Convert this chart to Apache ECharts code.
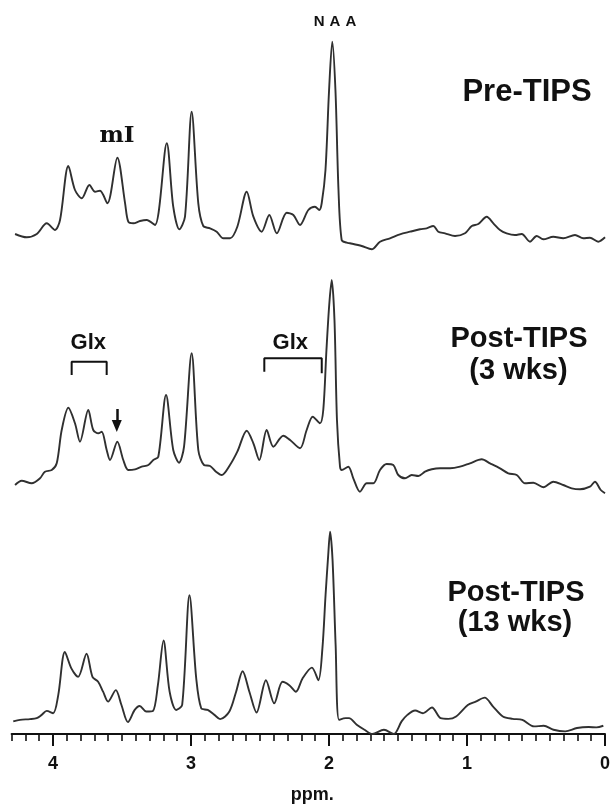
<!DOCTYPE html>
<html>
<head>
<meta charset="utf-8">
<script src="https://cdn.jsdelivr.net/npm/echarts@6/dist/echarts.min.js"></script>
<style>
html,body{margin:0;padding:0;background:#fff;}
#chart{width:613px;height:805px;}
</style>
</head>
<body>
<div id="chart"></div>
<script>
// ---- Data (ppm positions and intensities, arbitrary units) ----
const preTipsPpm = [4.275,4.191,4.118,4.046,3.986,3.950,3.890,3.842,3.793,3.738,3.697,3.661,3.608,3.536,3.480,3.457,3.420,3.372,3.324,3.264,3.179,3.132,3.088,3.047,2.999,2.951,2.915,2.866,2.818,2.770,2.722,2.669,2.601,2.553,2.493,2.438,2.384,2.312,2.264,2.216,2.156,2.108,2.077,2.059,2.032,2.006,1.983,1.960,1.938,1.915,1.879,1.855,1.770,1.698,1.638,1.566,1.494,1.421,1.349,1.301,1.253,1.217,1.168,1.096,1.024,0.975,0.928,0.867,0.819,0.771,0.723,0.663,0.614,0.554,0.506,0.458,0.386,0.314,0.229,0.169,0.121,0.061,0.012];
const preTipsIntensity = [16,12.7,16,26.7,20,30,84,60,51.7,65,58.3,59.3,46.7,92.3,46.7,28.3,26.7,29,30,25,106.7,43.3,20.7,33.3,138.3,46.7,24,21.7,18.3,11.7,11.7,23.3,58.3,33.3,18.3,35,16.7,37.3,35,25,40,43.3,40,47,80,160,208.3,160,60,10,7.3,6.7,4,0.7,8.3,11.7,15.7,18.3,20.7,21.7,24,18.3,16.7,14,16.7,24,26,33.3,26.7,20,16.7,15,16,8.3,14,10.7,13.3,11.7,15,11.7,12.3,8.3,12.7];

const post3Ppm = [4.275,4.227,4.155,4.095,4.059,4.010,3.974,3.938,3.890,3.842,3.806,3.746,3.710,3.673,3.649,3.613,3.589,3.536,3.493,3.457,3.408,3.360,3.312,3.276,3.240,3.184,3.132,3.090,3.054,2.999,2.951,2.910,2.866,2.823,2.782,2.722,2.669,2.601,2.553,2.510,2.457,2.409,2.337,2.288,2.216,2.168,2.124,2.072,2.048,2.025,2.005,1.987,1.967,1.949,1.927,1.915,1.867,1.831,1.783,1.734,1.686,1.638,1.590,1.542,1.506,1.457,1.409,1.361,1.313,1.264,1.204,1.132,1.060,0.988,0.903,0.843,0.771,0.711,0.650,0.590,0.530,0.458,0.386,0.314,0.253,0.193,0.121,0.085,0.043,0.012];
const post3Intensity = [15,19.3,16.7,21.7,28.3,30,36.7,70,92.3,76.7,58.3,90,70,66.7,68.3,50,40,58.3,40,30,30.7,33.3,35,40,43.3,105,50,37.3,53.3,146.7,50,35,34,28.3,25,35,48.3,69.3,56.7,40,70,53.3,64.3,60,51.7,70,83.3,76.7,90,150,195,220,180,80,33.3,30,33.3,21.7,8.3,16.7,16.7,30,36,35,25,21.7,25,24,28.3,30.7,31.7,31.7,33.3,36.7,40.7,36.7,31.7,26.7,25,16.7,17.3,12.7,18.3,15,11.7,10.7,13.3,18.3,10,6.7];

const post13Ppm = [4.288,4.239,4.167,4.118,4.082,4.046,3.999,3.962,3.914,3.866,3.818,3.757,3.714,3.673,3.637,3.601,3.545,3.504,3.457,3.408,3.372,3.324,3.276,3.240,3.199,3.155,3.107,3.064,3.011,2.962,2.926,2.879,2.830,2.789,2.722,2.673,2.626,2.577,2.525,2.457,2.397,2.337,2.288,2.240,2.192,2.124,2.077,2.048,2.025,2.006,1.992,1.974,1.952,1.927,1.879,1.855,1.799,1.743,1.686,1.602,1.531,1.474,1.432,1.376,1.319,1.254,1.191,1.135,1.079,0.994,0.937,0.872,0.811,0.740,0.670,0.599,0.514,0.444,0.373,0.288,0.203,0.118,0.062,0.012];
const post13Intensity = [12.7,14.3,15,16,19.3,23.3,21,39.3,82.7,66,57.7,81,57.7,52.7,42.7,32.7,44.3,29.3,12,24.3,28.3,22.7,23.3,49.3,94.3,42.7,24.3,29.3,140,56,26,24.3,19.3,15,22.7,42.7,63.3,42.7,21.7,54.3,31,52.7,49.3,42.7,56,67,54.3,86,140,180,204.3,175,90,14.3,16,16,9.3,4.3,0,4.3,0,12.7,19.3,23.7,21,26.7,16,15.3,17.7,29.3,32.7,36.7,27.7,17.7,15.3,14.3,7.7,8.3,4.3,2.7,6,7,6.7,8.3];

// Glx brackets (ppm, intensity in the Post-TIPS 3 wks panel)
const glxLeftPpm = [3.866, 3.866, 3.613, 3.613];
const glxLeftIntensity = [125, 138.3, 138.3, 125];
const glxRightPpm = [2.474, 2.474, 2.059, 2.059];
const glxRightIntensity = [128.3, 141.7, 141.7, 126.7];
// arrow (ppm, start intensity, end intensity)
const arrowPpm = 3.540;
const arrowFrom = 91;
const arrowTo = 74;

const majorTicks = [0, 1, 2, 3, 4];

function zip(a, b) {
  if (a.length !== b.length) throw new Error('length mismatch ' + a.length + ' vs ' + b.length);
  return a.map((v, i) => [v, b[i]]);
}

const chart = echarts.init(document.getElementById('chart'), null, {renderer: 'canvas'});
const LEFT = 11.6, RIGHT = 6.3;
const lineColor = '#303030';
const sansBold = '"Liberation Sans", Arial, sans-serif';

function hiddenX(gi) {
  return {gridIndex: gi, type: 'value', min: 0, max: 4.3, inverse: true, show: false};
}
function hiddenY(gi, max) {
  return {gridIndex: gi, type: 'value', min: 0, max: max, show: false};
}
function spectrum(name, data, idx) {
  return {
    name: name, type: 'line', xAxisIndex: idx, yAxisIndex: idx,
    data: data, showSymbol: false, smooth: 0.3, silent: true,
    lineStyle: {color: lineColor, width: 1.9}
  };
}

const option = {
  animation: false,
  backgroundColor: '#fff',
  grid: [
    {left: LEFT, right: RIGHT, top: 30, height: 220},
    {left: LEFT, right: RIGHT, top: 270, height: 230},
    {left: LEFT, right: RIGHT, top: 520, height: 216}
  ],
  xAxis: [
    hiddenX(0),
    hiddenX(1),
    {
      gridIndex: 2, type: 'value', min: 0, max: 4.3, interval: 0.1, inverse: true,
      position: 'bottom',
      axisLine: {show: true, onZero: false, lineStyle: {color: '#111', width: 2}},
      axisTick: {show: true, length: 7, lineStyle: {color: '#111', width: 1.6}},
      axisLabel: {show: false},
      splitLine: {show: false}
    },
    {
      gridIndex: 2, type: 'value', min: 0, max: 4.3, inverse: true,
      position: 'bottom',
      axisLine: {show: false, onZero: false},
      axisTick: {show: true, length: 12, customValues: majorTicks, lineStyle: {color: '#111', width: 2}},
      axisLabel: {show: true, customValues: majorTicks, margin: 21,
        fontFamily: sansBold, fontWeight: 'bold', fontSize: 18, color: '#111'},
      splitLine: {show: false},
      name: 'ppm.', nameLocation: 'middle', nameGap: 52,
      nameTextStyle: {fontFamily: sansBold, fontWeight: 'bold', fontSize: 18, color: '#111', padding: [0, 0, 0, 8]}
    }
  ],
  yAxis: [hiddenY(0, 220), hiddenY(1, 230), hiddenY(2, 216)],
  series: [
    spectrum('Pre-TIPS', zip(preTipsPpm, preTipsIntensity), 0),
    spectrum('Post-TIPS (3 wks)', zip(post3Ppm, post3Intensity), 1),
    spectrum('Post-TIPS (13 wks)', zip(post13Ppm, post13Intensity), 2),
    {
      type: 'line', xAxisIndex: 1, yAxisIndex: 1, data: zip(glxLeftPpm, glxLeftIntensity),
      showSymbol: false, silent: true, lineStyle: {color: '#111', width: 2}
    },
    {
      type: 'line', xAxisIndex: 1, yAxisIndex: 1, data: zip(glxRightPpm, glxRightIntensity),
      showSymbol: false, silent: true, lineStyle: {color: '#111', width: 2},
      markLine: {
        silent: true, animation: false,
        symbol: ['none', 'triangle'], symbolSize: [10, 12],
        label: {show: false},
        lineStyle: {color: '#111', width: 2.5, type: 'solid'},
        data: [[{coord: [arrowPpm, arrowFrom]}, {coord: [arrowPpm, arrowTo]}]]
      }
    }
  ],
  graphic: [
    {type: 'text', x: 335, y: 22, style: {
      text: '{a|N}{a|A}{a|A}', align: 'center', verticalAlign: 'middle',
      rich: {a: {font: 'bold 15px "Liberation Sans", Arial, sans-serif', fill: '#111', padding: [0, 2.5]}}
    }},
    {type: 'text', x: 117, y: 136.5, style: {text: 'mI', align: 'center', verticalAlign: 'middle',
      font: 'bold 23px "DejaVu Serif", serif', fill: '#111'}},
    {type: 'text', x: 527, y: 92, style: {text: 'Pre-TIPS', align: 'center', verticalAlign: 'middle',
      font: 'bold 31px "Liberation Sans", Arial, sans-serif', fill: '#111'}},
    {type: 'text', x: 88.3, y: 343, style: {text: 'Glx', align: 'center', verticalAlign: 'middle',
      font: 'bold 22px "Liberation Sans", Arial, sans-serif', fill: '#111'}},
    {type: 'text', x: 290.3, y: 343, style: {text: 'Glx', align: 'center', verticalAlign: 'middle',
      font: 'bold 22px "Liberation Sans", Arial, sans-serif', fill: '#111'}},
    {type: 'text', x: 519, y: 339, style: {text: 'Post-TIPS', align: 'center', verticalAlign: 'middle',
      font: 'bold 29px "Liberation Sans", Arial, sans-serif', fill: '#111'}},
    {type: 'text', x: 518.5, y: 371, style: {text: '(3 wks)', align: 'center', verticalAlign: 'middle',
      font: 'bold 29px "Liberation Sans", Arial, sans-serif', fill: '#111'}},
    {type: 'text', x: 516, y: 593, style: {text: 'Post-TIPS', align: 'center', verticalAlign: 'middle',
      font: 'bold 29px "Liberation Sans", Arial, sans-serif', fill: '#111'}},
    {type: 'text', x: 515, y: 623, style: {text: '(13 wks)', align: 'center', verticalAlign: 'middle',
      font: 'bold 29px "Liberation Sans", Arial, sans-serif', fill: '#111'}}
  ]
};
chart.setOption(option);
</script>
</body>
</html>
